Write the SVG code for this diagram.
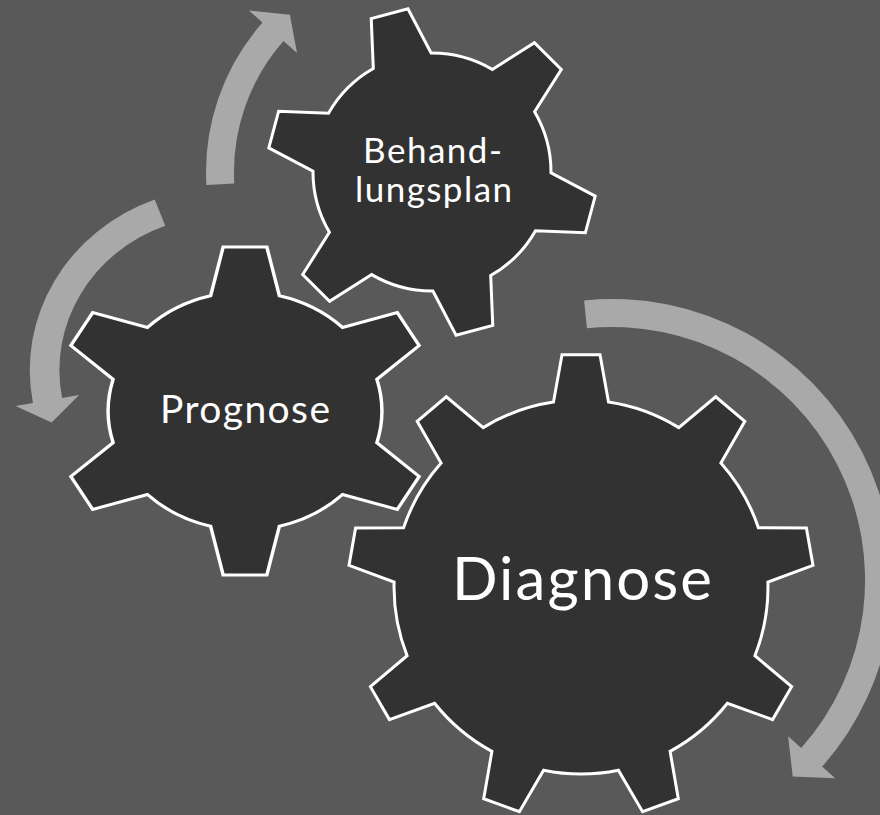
<svg xmlns="http://www.w3.org/2000/svg" xmlns:xlink="http://www.w3.org/1999/xlink" width="880" height="815" viewBox="0 0 880 815">
  <style>
    .gear { fill: #323232; stroke: #ffffff; stroke-width: 3; stroke-linejoin: miter; }
    .arrow { fill: #a9a9a9; stroke: none; }
    .label { fill: #ffffff; font-family: Lato, "Open Sans", "Liberation Sans", sans-serif; font-weight: 400; text-anchor: middle; }
  </style>
  <defs>
    <!-- six-tooth gear, centred on the origin -->
    <path id="gear6" d="M -29.9 -115.2 L -19 -163.9 L 19 -163.9 L 29.9 -115.2 A 119 119 0 0 1 84.8 -83.5 L 132.4 -98.4 L 151.4 -65.5 L 114.7 -31.7 A 119 119 0 0 1 114.7 31.7 L 151.4 65.5 L 132.4 98.4 L 84.8 83.5 A 119 119 0 0 1 29.9 115.2 L 19 163.9 L -19 163.9 L -29.9 115.2 A 119 119 0 0 1 -84.8 83.5 L -132.4 98.4 L -151.4 65.5 L -114.7 31.7 A 119 119 0 0 1 -114.7 -31.7 L -151.4 -65.5 L -132.4 -98.4 L -84.8 -83.5 A 119 119 0 0 1 -29.9 -115.2 Z"/>
  </defs>

  <rect width="880" height="815" fill="#595959"/>

  <!-- circular arrows -->
  <g id="connectors">
    <path class="arrow" d="M 584.1 300.4 A 281 281 0 0 1 822.1 766.6 L 835.2 778.2 L 792.7 776.5 L 788.1 736.3 L 801.2 748.0 A 253 253 0 0 0 586.9 328.2 Z"/>
    <path class="arrow" d="M 206.4 185.0 A 226 226 0 0 1 262.5 22.5 L 249.0 10.6 L 289.9 14.7 L 297.0 53.0 L 283.5 41.1 A 198 198 0 0 0 234.3 183.4 Z"/>
    <path class="arrow" transform="translate(223 370) scale(1.06 1)" d="M -64.4 -170.5 A 182.3 182.3 0 0 0 -179.3 32.9 L -195.7 35.9 L -161.7 52.5 L -135.7 24.9 L -151.8 27.9 A 154.3 154.3 0 0 1 -54.5 -144.3 Z"/>
  </g>

  <!-- nine-tooth gear -->
  <g id="diagnose">
    <path class="gear" transform="translate(581 587)" d="M -27.5 -185 L -19 -232.2 L 19 -232.2 L 27.5 -185 A 187 187 0 0 1 97.8 -159.4 L 134.7 -190.2 L 163.8 -165.7 L 139.9 -124 A 187 187 0 0 1 177.4 -59.2 L 225.4 -59 L 232 -21.6 L 186.9 -5 A 187 187 0 0 1 173.9 68.7 L 210.6 99.7 L 191.6 132.6 L 146.4 116.3 A 187 187 0 0 1 89.1 164.4 L 97.3 211.7 L 61.6 224.7 L 37.4 183.2 A 187 187 0 0 1 -37.4 183.2 L -61.6 224.7 L -97.3 211.7 L -89.1 164.4 A 187 187 0 0 1 -146.4 116.3 L -191.6 132.6 L -210.6 99.7 L -173.9 68.7 A 187 187 0 0 1 -186.9 -5 L -232 -21.6 L -225.4 -59 L -177.4 -59.2 A 187 187 0 0 1 -139.9 -124 L -163.8 -165.7 L -134.7 -190.2 L -97.8 -159.4 A 187 187 0 0 1 -27.5 -185 Z"/>
    <text class="label" x="582" y="600" font-size="60" textLength="260">Diagnose</text>
  </g>

  <g id="prognose">
    <use xlink:href="#gear6" href="#gear6" class="gear" vector-effect="non-scaling-stroke" transform="translate(245 411) scale(1.15 1)"/>
    <text class="label" x="245" y="423" font-size="39" textLength="170">Prognose</text>
  </g>

  <g id="behandlungsplan">
    <use xlink:href="#gear6" href="#gear6" class="gear" transform="translate(432 172) rotate(-15)"/>
    <text class="label" x="432.5" y="163" font-size="35" textLength="139">Behand-</text>
    <text class="label" x="433.5" y="202" font-size="35" textLength="157">lungsplan</text>
  </g>
</svg>
